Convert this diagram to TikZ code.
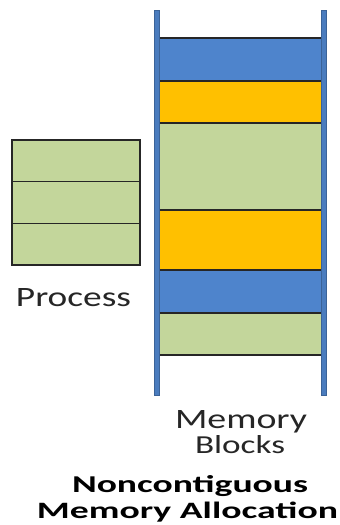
\documentclass[tikz,border=0pt]{standalone}
\usepackage{fontspec}
\setmainfont{Carlito}
\usepackage{graphicx}
\definecolor{wallblue}{RGB}{74,124,190}
\definecolor{blkblue}{RGB}{78,132,204}
\definecolor{blkorange}{RGB}{255,192,0}
\definecolor{blkgreen}{RGB}{195,214,155}
\tikzset{
  blk/.style={draw=black!85, line width=1.2pt, inner sep=0pt, outer sep=0pt, anchor=north west, minimum width=163pt},
  pbox/.style={draw=black!85, line width=1.4pt, fill=blkgreen, inner sep=0pt, outer sep=0pt, anchor=north west, minimum width=128pt, minimum height=125pt},
  pline/.style={draw=black!85, line width=1.4pt},
  wall/.style={fill=wallblue, draw=wallblue!80!black, line width=0.4pt, inner sep=0pt, outer sep=0pt, anchor=north west, minimum width=5pt, minimum height=385pt},
  lbl/.style={inner sep=0pt, outer sep=0pt, anchor=base west, text=black!85}
}
\begin{document}
\begin{tikzpicture}[x=1pt,y=-1pt]
\useasboundingbox (0,0) rectangle (340,525);
% memory blocks
\node[blk, fill=blkblue,   minimum height=43pt] (b1) at (159,38) {};
\node[blk, fill=blkorange, minimum height=42pt] (b2) at (159,81) {};
\node[blk, fill=blkgreen,  minimum height=87pt] (b3) at (159,123) {};
\node[blk, fill=blkorange, minimum height=60pt] (b4) at (159,210) {};
\node[blk, fill=blkblue,   minimum height=43pt] (b5) at (159,270) {};
\node[blk, fill=blkgreen,  minimum height=42pt] (b6) at (159,313) {};
% walls
\node[wall] (wl) at (154,10) {};
\node[wall] (wr) at (321.5,10) {};
% process
\node[pbox] (p) at (12,140) {};
\draw[pline] ([yshift=-41.7pt]p.north west) coordinate (d1) -- ([yshift=-41.7pt]p.north east);
\draw[pline] ([yshift=41.7pt]p.south west) coordinate (d2) -- ([yshift=41.7pt]p.south east);
% labels
\node[lbl] (tp) at (16,306) {\resizebox{115pt}{18pt}{Process}};
\node[lbl] (tm) at (175,428) {\resizebox{132pt}{18pt}{Memory}};
\node[lbl] (tb) at (195,453) {\resizebox{90pt}{18pt}{Blocks}};
\node[lbl, text=black] (tn) at (72,492) {\resizebox{236pt}{17pt}{\bfseries Noncontiguous}};
\node[lbl, text=black] (ta) at (37,518) {\resizebox{301pt}{16.5pt}{\bfseries Memory Allocation}};
\end{tikzpicture}
\end{document}
